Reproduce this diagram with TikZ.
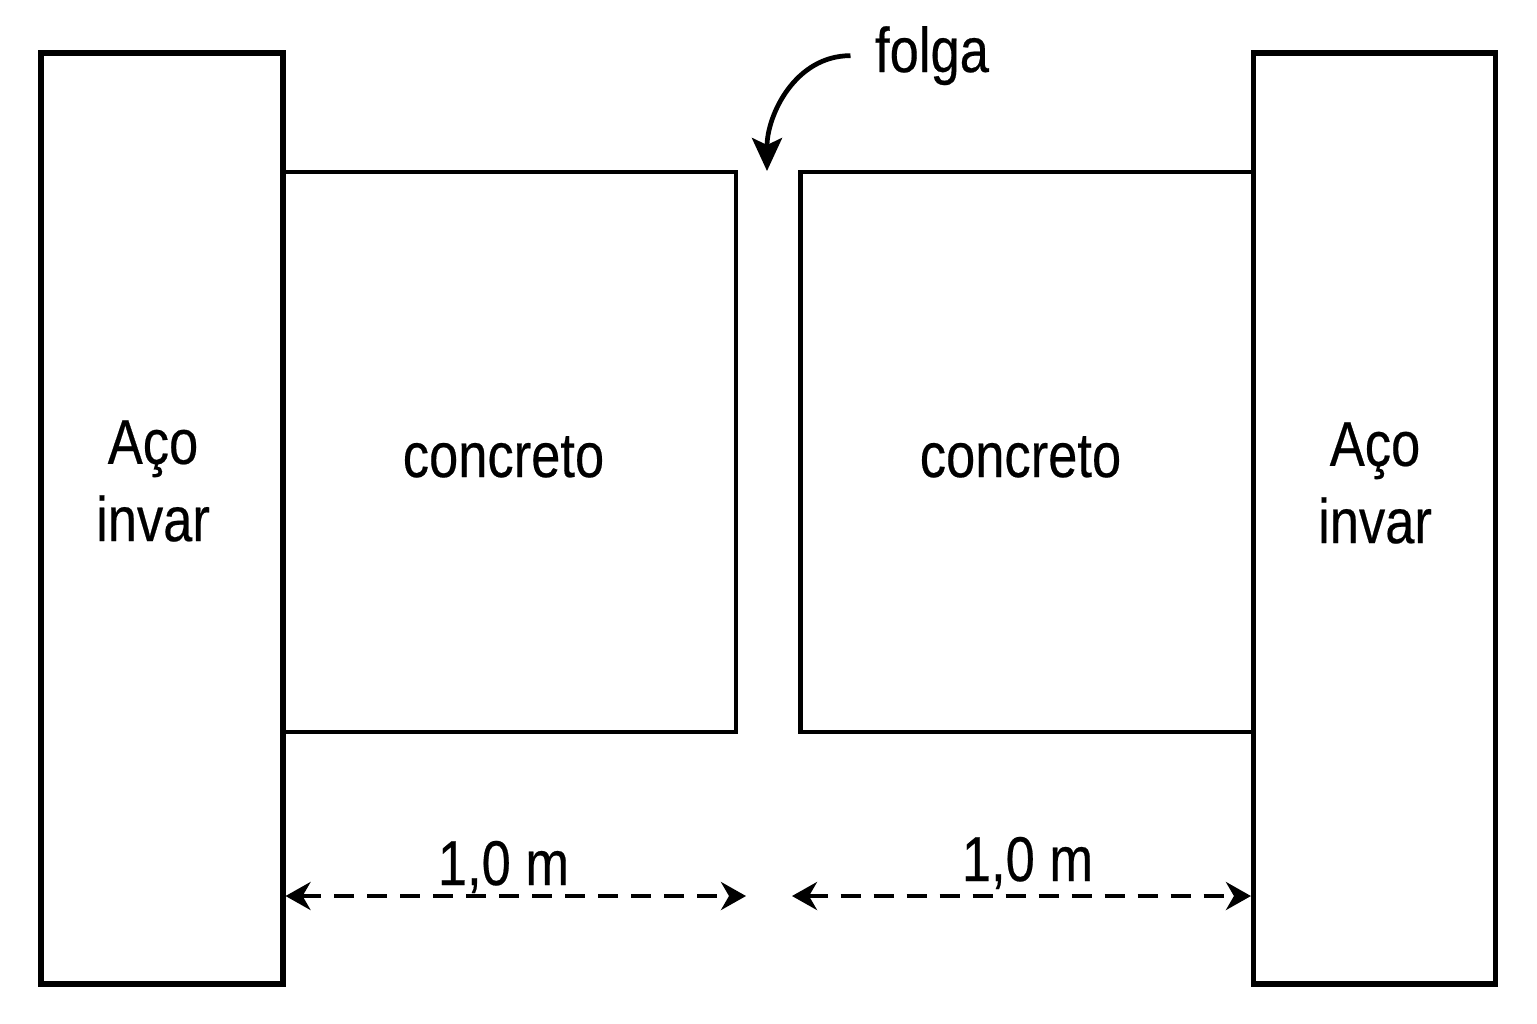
\documentclass[tikz,border=0pt]{standalone}
\usepackage{fontspec}
\setmainfont{Liberation Sans}
\newfontfamily\lblfont[FakeBold=0.35]{Liberation Sans}
\usetikzlibrary{arrows.meta}

\begin{document}
\begin{tikzpicture}[x=0.1mm,y=-0.1mm,
        steel/.style={draw,line width=1.45pt,minimum width=24.2mm,minimum height=93.1mm,inner sep=0},
        block/.style={draw,line width=1.2pt,minimum width=45.3mm,minimum height=56mm,inner sep=0},
        lbl/.style={font=\lblfont\fontsize{18}{22}\selectfont,xscale=0.83,inner sep=0,align=center},
        dim/.style={line width=1.1pt,dash pattern=on 2mm off 1.3mm,
                {Stealth[length=2.5mm,width=2.8mm,inset=0.8mm]}-{Stealth[length=2.5mm,width=2.8mm,inset=0.8mm]}}]
        \useasboundingbox (0,0) rectangle (1537,1023);

        \node [steel] (steelL) at (162,518.5) {};
        \node [steel] (steelR) at (1374.5,518.5) {};
        \node [block] (concL) at (509.5,452) {};
        \node [block] (concR) at (1027,452) {};

        \node [lbl] (acoL) at (153,481) {Aço\\invar};
        \node [lbl] (acoR) at (1375,483) {Aço\\invar};
        \node [lbl,anchor=base] (txtL) at (503.5,477) {concreto};
        \node [lbl,anchor=base] (txtR) at (1020.5,477) {concreto};

        \node [lbl,anchor=base] (folga) at (932,72) {folga};
        \coordinate (gap) at (767,171);
        \draw[line width=1.35pt,-{Stealth[length=3.3mm,width=3mm,inset=0.7mm]}] ([xshift=-2.4mm]folga.west) to[out=180,in=90] (gap);

        \node [lbl,anchor=base] (lenL) at (503.5,885) {1,0 m};
        \node [lbl,anchor=base] (lenR) at (1027.5,881) {1,0 m};
        \coordinate (dimL) at (746,896);
        \coordinate (dimR) at (792,896);
        \draw[dim] (steelL.east |- dimL) -- (dimL);
        \draw[dim] (dimR) -- (steelR.west |- dimR);
\end{tikzpicture}
\end{document}
